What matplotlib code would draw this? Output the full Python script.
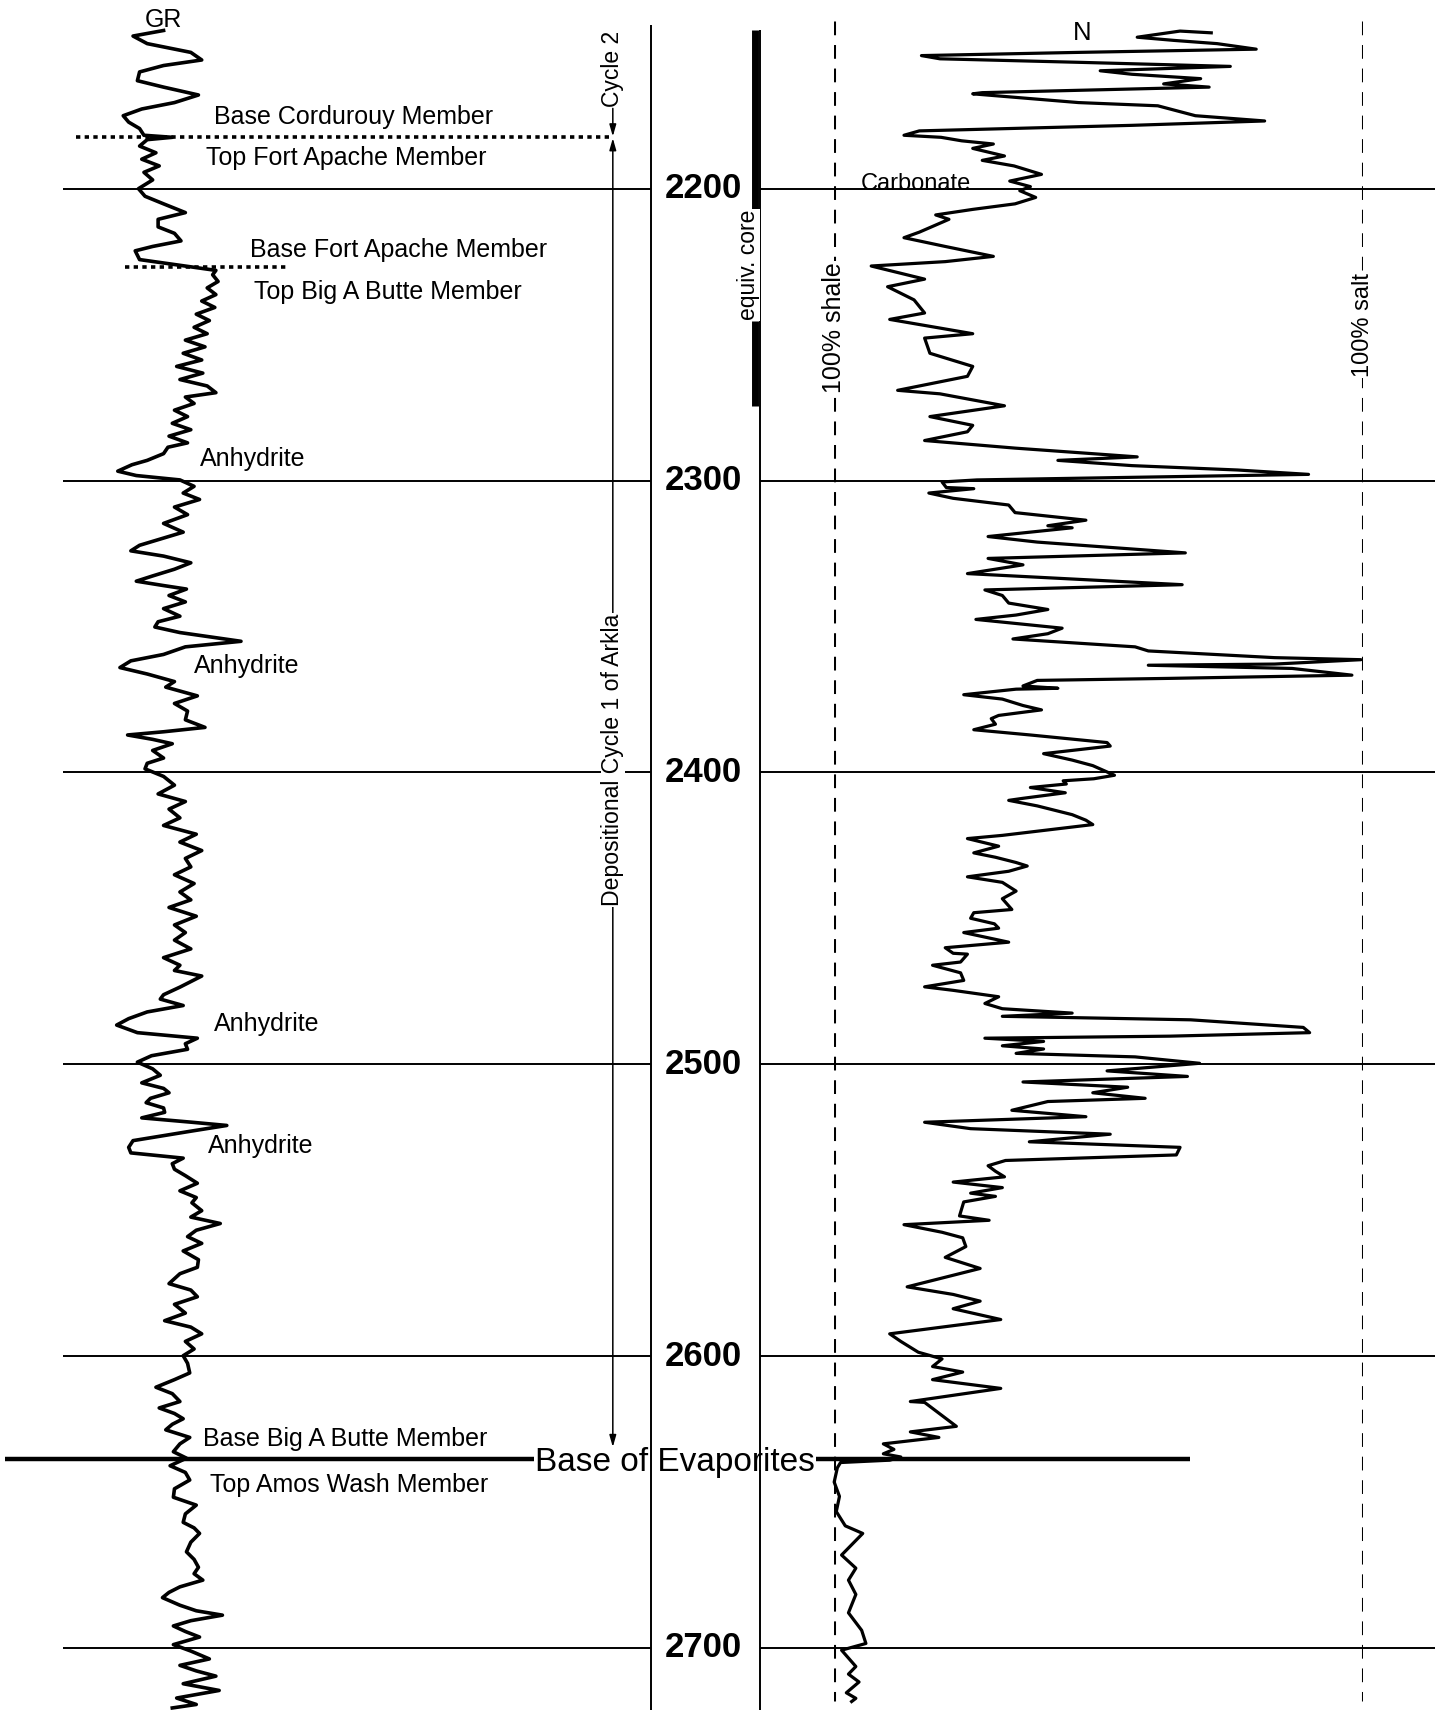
import matplotlib.pyplot as plt

plt.rcParams['font.family'] = ['Liberation Sans', 'DejaVu Sans']

# depth window of the log (ft)
DEPTH_TOP = 2135.35
DEPTH_BASE = 2721.3
depth_ticks = [2200, 2300, 2400, 2500, 2600, 2700]

# formation tops (ft)
top_fort_apache = 2182.4
top_big_a_butte = 2226.9
base_evaporites = 2635.4

# cored interval (ft)
core_top = 2145.8
core_label_top = 2207.1
core_label_base = 2245.2
core_base = 2274.4

# gamma ray log
gr_depth = [
    2145.8, 2147.7, 2150.3, 2153.3, 2155.9, 2157.8, 2160.0, 2163.0, 2165.2, 2167.9,
    2170.5, 2172.7, 2175.0, 2177.2, 2179.4, 2181.7, 2182.4, 2183.2, 2185.4, 2187.7,
    2189.9, 2192.2, 2194.4, 2197.0, 2200.0, 2202.6, 2205.2, 2208.2, 2210.5, 2213.1,
    2215.3, 2217.9, 2219.8, 2221.3, 2224.3, 2226.5, 2228.0, 2229.5, 2231.8, 2234.0,
    2236.3, 2238.5, 2240.7, 2243.0, 2245.2, 2247.5, 2249.7, 2251.9, 2254.2, 2256.4,
    2258.7, 2260.9, 2263.2, 2265.4, 2267.6, 2269.9, 2271.4, 2273.6, 2275.9, 2278.1,
    2280.4, 2282.6, 2284.8, 2287.1, 2288.6, 2290.8, 2293.1, 2294.6, 2296.8, 2298.3,
    2299.8, 2302.0, 2304.3, 2306.5, 2309.1, 2311.7, 2314.7, 2317.7, 2320.3, 2322.2,
    2324.1, 2325.9, 2328.2, 2330.4, 2332.7, 2334.5, 2336.0, 2337.2, 2339.4, 2341.6,
    2343.9, 2346.5, 2348.4, 2350.2, 2352.1, 2355.1, 2357.0, 2359.6, 2361.8, 2364.1,
    2366.3, 2368.9, 2370.8, 2373.8, 2376.4, 2379.0, 2382.0, 2384.6, 2386.1, 2387.2,
    2388.7, 2390.2, 2392.5, 2395.1, 2396.9, 2398.8, 2401.4, 2404.4, 2407.4, 2410.0,
    2412.6, 2415.6, 2418.2, 2421.2, 2423.9, 2426.8, 2429.5, 2432.4, 2435.1, 2438.1,
    2441.0, 2443.7, 2446.3, 2449.3, 2452.3, 2454.9, 2457.5, 2460.5, 2463.5, 2466.1,
    2467.9, 2469.8, 2473.6, 2476.2, 2477.7, 2479.9, 2482.1, 2484.4, 2486.6, 2489.2,
    2491.1, 2493.0, 2494.9, 2497.1, 2499.3, 2501.6, 2503.8, 2506.4, 2508.3, 2509.8,
    2511.7, 2513.2, 2515.0, 2516.5, 2518.4, 2519.9, 2521.0, 2522.9, 2524.8, 2526.2,
    2528.5, 2530.4, 2532.2, 2534.1, 2536.0, 2538.2, 2540.8, 2543.4, 2545.7, 2547.5,
    2550.2, 2552.4, 2554.6, 2556.9, 2559.1, 2561.4, 2564.0, 2567.0, 2569.6, 2571.8,
    2575.2, 2577.4, 2579.7, 2582.3, 2585.3, 2587.9, 2590.1, 2592.4, 2595.0, 2597.6,
    2599.9, 2602.5, 2605.8, 2608.1, 2610.7, 2612.9, 2615.6, 2617.8, 2619.7, 2621.5,
    2623.4, 2625.3, 2627.9, 2630.1, 2632.8, 2635.0, 2637.6, 2639.9, 2642.5, 2645.5,
    2648.4, 2651.1, 2654.1, 2657.0, 2658.9, 2660.8, 2663.8, 2667.1, 2669.7, 2672.4,
    2674.6, 2676.8, 2679.1, 2681.0, 2682.8, 2685.4, 2687.3, 2688.8, 2690.7, 2692.5,
    2694.4, 2696.3, 2698.9, 2701.1, 2703.8, 2706.0, 2707.9, 2709.7, 2712.3, 2714.6,
    2717.2, 2719.4, 2720.6,
]
gr_api = [
    30.0, 24.4, 27.0, 35.0, 37.0, 30.0, 25.6, 25.2, 30.0, 36.4,
    32.0, 26.0, 22.6, 23.6, 25.6, 26.4, 31.6, 27.0, 25.6, 28.6,
    26.0, 29.2, 26.4, 28.0, 25.4, 26.6, 30.0, 34.0, 29.0, 29.0,
    32.0, 33.2, 28.0, 24.8, 25.6, 34.0, 39.6, 39.0, 40.0, 38.0,
    39.6, 37.0, 39.4, 36.0, 38.4, 35.6, 38.0, 34.0, 37.6, 33.6,
    37.0, 32.4, 37.2, 33.0, 38.0, 39.6, 34.0, 35.6, 32.0, 34.4,
    31.6, 35.0, 31.0, 34.4, 30.8, 30.0, 27.0, 24.2, 21.6, 25.0,
    33.0, 35.6, 33.6, 36.6, 32.0, 34.4, 30.0, 33.6, 29.0, 25.6,
    24.0, 30.0, 35.0, 32.0, 28.0, 25.0, 30.0, 34.2, 31.0, 34.0,
    30.0, 33.0, 29.0, 28.4, 33.0, 44.2, 34.0, 30.0, 24.0, 22.0,
    27.0, 32.0, 30.4, 36.2, 32.0, 34.4, 34.0, 37.6, 30.0, 23.4,
    28.0, 31.6, 28.0, 30.0, 27.0, 26.6, 30.0, 32.0, 29.0, 34.0,
    31.0, 33.0, 30.0, 36.0, 33.0, 37.0, 34.0, 35.0, 32.0, 35.6,
    33.0, 35.0, 31.0, 36.0, 32.0, 34.0, 32.0, 35.0, 30.0, 33.0,
    32.0, 37.0, 33.0, 30.0, 29.4, 33.6, 27.0, 23.6, 21.4, 25.2,
    36.2, 34.0, 34.4, 27.8, 25.2, 28.0, 29.4, 26.0, 30.0, 31.0,
    27.6, 26.8, 30.0, 30.2, 26.0, 35.2, 41.6, 35.2, 29.0, 24.4,
    23.6, 24.0, 33.6, 31.6, 32.0, 34.0, 36.2, 33.0, 36.0, 35.2,
    37.0, 35.0, 40.4, 36.0, 34.4, 37.0, 33.6, 36.4, 36.2, 33.0,
    31.0, 35.0, 36.2, 32.0, 34.0, 30.2, 35.0, 37.0, 34.0, 35.6,
    33.6, 34.4, 34.8, 32.0, 28.6, 31.6, 33.0, 29.2, 32.0, 33.6,
    31.6, 30.4, 34.8, 33.0, 31.8, 34.2, 31.2, 34.0, 34.8, 32.0,
    31.8, 36.0, 34.0, 33.6, 35.6, 36.6, 35.0, 34.2, 35.6, 36.4,
    35.6, 37.2, 33.0, 31.0, 29.8, 33.0, 36.0, 40.8, 35.0, 31.8,
    34.0, 36.6, 31.8, 35.0, 38.4, 33.0, 36.0, 39.6, 33.6, 40.2,
    32.4, 36.0, 31.6,
]

# neutron log, scaled 0 = 100% shale, 100 = 100% salt
n_depth = [
    2146.6, 2146.0, 2148.1, 2149.2, 2150.3, 2152.2, 2153.3, 2154.4, 2155.5, 2156.7,
    2158.1, 2159.6, 2160.8, 2162.3, 2164.1, 2165.2, 2167.1, 2167.5, 2170.5, 2171.6,
    2175.0, 2176.8, 2178.3, 2180.2, 2181.7, 2182.4, 2183.6, 2184.7, 2186.2, 2188.8,
    2190.3, 2192.2, 2195.1, 2197.4, 2199.3, 2200.7, 2203.0, 2205.2, 2207.1, 2209.0,
    2210.5, 2214.9, 2216.8, 2219.8, 2223.2, 2225.0, 2226.5, 2231.0, 2233.6, 2238.1,
    2242.6, 2244.8, 2249.7, 2251.2, 2256.4, 2260.9, 2264.3, 2269.1, 2270.3, 2274.4,
    2278.1, 2281.1, 2283.3, 2286.3, 2288.9, 2291.9, 2293.1, 2294.9, 2296.4, 2297.9,
    2299.8, 2300.5, 2302.4, 2302.8, 2304.3, 2306.1, 2308.4, 2311.0, 2313.6, 2315.5,
    2316.2, 2319.2, 2321.1, 2324.8, 2326.7, 2328.9, 2331.9, 2335.7, 2337.5, 2339.4,
    2342.0, 2344.2, 2346.1, 2347.6, 2349.5, 2350.6, 2352.5, 2354.3, 2357.0, 2358.4,
    2360.7, 2361.4, 2362.9, 2363.3, 2364.4, 2366.7, 2367.8, 2368.5, 2370.4, 2371.2,
    2371.5, 2373.4, 2374.9, 2377.1, 2378.6, 2380.5, 2381.6, 2383.5, 2385.4, 2387.2,
    2389.8, 2391.0, 2393.6, 2395.8, 2397.7, 2401.0, 2402.2, 2402.9, 2404.0, 2405.2,
    2407.0, 2408.9, 2409.6, 2411.5, 2414.5, 2416.4, 2417.9, 2421.6, 2422.7, 2425.3,
    2427.6, 2429.1, 2430.9, 2432.1, 2433.9, 2435.8, 2437.7, 2440.7, 2443.3, 2447.0,
    2448.1, 2450.0, 2451.9, 2453.4, 2454.9, 2458.2, 2460.1, 2462.0, 2462.3, 2465.0,
    2466.1, 2468.7, 2471.3, 2473.5, 2474.7, 2476.9, 2479.2, 2481.0, 2482.5, 2483.6,
    2484.8, 2487.4, 2489.2, 2490.4, 2491.1, 2492.2, 2493.7, 2494.8, 2496.3, 2497.5,
    2499.7, 2502.3, 2504.2, 2506.1, 2507.9, 2509.8, 2511.7, 2512.8, 2515.8, 2518.0,
    2519.9, 2522.1, 2524.0, 2526.6, 2528.5, 2531.1, 2533.0, 2534.8, 2536.7, 2538.6,
    2540.4, 2542.3, 2544.2, 2545.3, 2547.2, 2552.0, 2553.5, 2555.0, 2557.6, 2559.5,
    2562.5, 2566.2, 2570.0, 2576.3, 2578.9, 2581.2, 2583.8, 2587.5, 2592.4, 2595.0,
    2598.7, 2601.0, 2603.6, 2605.5, 2608.1, 2611.1, 2615.6, 2615.9, 2624.1, 2626.0,
    2627.9, 2630.1, 2632.0, 2633.5, 2634.6, 2635.7, 2636.5, 2638.3, 2643.2, 2648.1,
    2653.3, 2658.2, 2660.8, 2668.2, 2672.7, 2676.8, 2681.7, 2688.0, 2694.0, 2698.5,
    2700.8, 2706.4, 2709.0, 2711.7, 2715.4, 2717.3, 2718.4,
]
n_pct = [
    71.3, 65.4, 57.3, 64.3, 72.4, 79.8, 46.2, 16.5, 20.0, 46.2,
    74.9, 50.3, 56.3, 69.3, 62.3, 70.9, 28.0, 26.2, 46.2, 61.2,
    68.3, 81.4, 56.3, 16.1, 13.2, 20.2, 24.1, 30.1, 26.2, 32.2,
    28.0, 34.0, 39.2, 33.2, 37.1, 35.1, 38.1, 34.2, 26.2, 19.2,
    21.7, 16.1, 13.2, 21.0, 30.1, 21.0, 7.0, 17.1, 10.1, 15.1,
    17.1, 10.5, 26.2, 17.1, 18.1, 26.2, 25.2, 12.0, 20.0, 32.2,
    18.1, 26.2, 25.2, 17.1, 34.2, 57.3, 42.3, 56.3, 76.3, 89.7,
    27.0, 20.4, 21.2, 26.4, 17.9, 22.5, 33.0, 34.2, 47.6, 40.4,
    45.0, 29.1, 38.4, 66.4, 29.1, 35.7, 25.2, 65.8, 28.5, 31.8,
    33.0, 40.4, 34.4, 26.8, 37.1, 43.1, 40.4, 33.8, 56.9, 59.4,
    83.3, 99.6, 83.3, 59.4, 86.6, 97.9, 63.5, 38.4, 35.7, 42.3,
    34.4, 24.5, 31.8, 35.7, 39.2, 31.1, 29.7, 30.5, 26.4, 37.1,
    51.6, 52.2, 39.6, 45.0, 48.9, 53.0, 49.1, 43.3, 43.9, 37.1,
    43.7, 35.7, 33.0, 38.4, 45.0, 47.6, 48.9, 31.8, 25.2, 31.1,
    26.4, 30.5, 34.4, 36.5, 33.0, 25.2, 31.8, 34.4, 31.8, 33.6,
    26.4, 25.8, 30.3, 31.1, 24.5, 33.0, 21.0, 22.5, 25.2, 23.9,
    18.6, 23.9, 24.5, 17.1, 22.5, 31.1, 28.5, 31.8, 45.0, 31.8,
    67.4, 88.7, 89.9, 63.5, 28.5, 39.6, 31.8, 39.6, 34.4, 56.9,
    69.1, 51.6, 66.8, 35.7, 55.5, 48.9, 58.8, 40.4, 33.6, 47.6,
    17.1, 25.8, 52.2, 36.9, 65.4, 64.7, 32.4, 29.1, 30.5, 32.2,
    22.5, 31.8, 25.8, 30.5, 24.5, 23.7, 29.3, 13.2, 20.4, 24.3,
    24.9, 21.0, 27.6, 13.8, 22.5, 27.6, 22.5, 31.5, 10.5, 12.6,
    15.9, 20.4, 18.6, 24.3, 18.6, 31.5, 14.4, 17.1, 23.1, 14.4,
    19.8, 9.3, 11.3, 9.3, 12.6, 10.5, 1.2, 0.6, 0.0, 1.0,
    0.4, 2.1, 5.4, 1.4, 4.1, 2.7, 4.1, 2.7, 5.2, 6.0,
    1.4, 4.1, 2.7, 4.7, 2.3, 4.1, 3.3,
]

fig = plt.figure(figsize=(14.35, 17.10), dpi=100)

# layout axes: x in sheet units (0..1316), y in depth
ax = fig.add_axes([0, 0, 1, 1])
ax.set_xlim(0, 1316)
ax.set_ylim(DEPTH_BASE, DEPTH_TOP)
ax.axis('off')

ax.hlines(depth_ticks, 58, 597, color='black', lw=1.4)
ax.hlines(depth_ticks, 697, 1316, color='black', lw=1.4)
ax.vlines(597, 2143.9, DEPTH_BASE, color='black', lw=1.4)
ax.vlines(697, core_top, DEPTH_BASE, color='black', lw=1.4)
ax.vlines(692.5, core_top, core_label_top, color='black', lw=5)
ax.vlines(692.5, core_label_base, core_base, color='black', lw=5)
ax.text(686, (core_label_top + core_label_base) / 2, 'equiv. core', rotation=90,
        ha='center', va='center', fontsize=16.5,
        bbox=dict(fc='white', ec='none', pad=0.5))

for d in depth_ticks:
    ax.text(645, d, str(d), ha='center', va='center', fontsize=25, fontweight='bold')

# member boundaries
ax.hlines(top_fort_apache, 70, 562, color='black', lw=2.6, linestyles=(0, (1.2, 1.2)))
ax.hlines(top_big_a_butte, 115, 265, color='black', lw=2.6, linestyles=(0, (1.2, 1.2)))
ax.hlines(base_evaporites, 5, 490, color='black', lw=3.2)
ax.hlines(base_evaporites, 748, 1091, color='black', lw=3.2)
ax.text(619, base_evaporites + 4.1, 'Base of Evaporites', ha='center', va='baseline',
        fontsize=24)

lab = dict(ha='left', va='center', fontsize=18)
ax.text(196, 2175.3, 'Base Cordurouy Member', **lab)
ax.text(189, 2189.5, 'Top Fort Apache Member', **lab)
ax.text(229, 2220.9, 'Base Fort Apache Member', **lab)
ax.text(233, 2235.5, 'Top Big A Butte Member', **lab)
ax.text(183, 2292.7, 'Anhydrite', **lab)
ax.text(178, 2363.7, 'Anhydrite', **lab)
ax.text(196, 2486.3, 'Anhydrite', **lab)
ax.text(191, 2528.1, 'Anhydrite', **lab)
ax.text(186, 2628.6, 'Base Big A Butte Member', **lab)
ax.text(193, 2644.3, 'Top Amos Wash Member', **lab)
ax.text(789, 2200.6, 'Carbonate', ha='left', va='baseline', fontsize=17)
ax.text(150, 2142.1, 'GR', ha='center', va='center', fontsize=18)
ax.text(992, 2146.6, 'N', ha='center', va='center', fontsize=18.5)

# depositional cycles
ax.annotate('', xy=(562, top_fort_apache - 0.3), xytext=(562, 2172.5),
            arrowprops=dict(arrowstyle='-|>,head_length=0.7,head_width=0.2',
                            lw=1.1, color='black', shrinkA=0, shrinkB=0))
ax.annotate('', xy=(562, 2631.2), xytext=(562, top_fort_apache + 0.3),
            arrowprops=dict(arrowstyle='<|-|>,head_length=0.7,head_width=0.2',
                            lw=1.1, color='black', shrinkA=0, shrinkB=0))
ax.text(562, 2158.9, 'Cycle 2', rotation=90, ha='center', va='center', fontsize=16.5,
        bbox=dict(fc='white', ec='none', pad=0.5))
ax.text(562, 2395.8, 'Depositional Cycle 1 of Arkla', rotation=90, ha='center',
        va='center', fontsize=16.6, bbox=dict(fc='white', ec='none', pad=0.5))

# GR track
axg = fig.add_axes([0, 0, 650 / 1316, 1])
axg.set_xlim(0, 130)
axg.set_ylim(DEPTH_BASE, DEPTH_TOP)
axg.axis('off')
axg.plot(gr_api, gr_depth, color='black', lw=2.6, solid_joinstyle='round', clip_on=False)

# N track
axn = fig.add_axes([765 / 1316, 0, 485 / 1316, 1])
axn.set_xlim(0, 100)
axn.set_ylim(DEPTH_BASE, DEPTH_TOP)
axn.axis('off')
axn.vlines([0, 100], 2142.4, 2718.3, color='black', lw=2.2, linestyles=(0, (4.5, 3.2)))
axn.plot(n_pct, n_depth, color='black', lw=2.3, solid_joinstyle='round', clip_on=False)
axn.text(0, 2247.5, '100% shale', rotation=90, ha='center', va='center', fontsize=18,
         bbox=dict(fc='white', ec='none', pad=0.5))
axn.text(100, 2246.7, '100% salt', rotation=90, ha='center', va='center', fontsize=17,
         bbox=dict(fc='white', ec='none', pad=0.5))

fig.savefig('out.png', dpi=100)
